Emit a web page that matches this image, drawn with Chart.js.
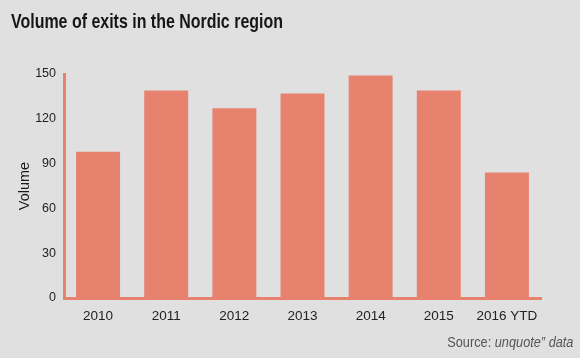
<!DOCTYPE html>
<html>
<head>
<meta charset="utf-8">
<script src="https://cdn.jsdelivr.net/npm/chart.js@4/dist/chart.umd.min.js"></script>
<style>
  html, body { margin: 0; padding: 0; background: #e0e0e0; }
  #wrap { position: relative; width: 580px; height: 358px; background: #e0e0e0; overflow: hidden; }
  #chart { position: absolute; left: 0; top: 0; }
  #title { position: absolute; left: 11px; top: 10px; font-family: "Liberation Sans", sans-serif; font-weight: bold; font-size: 21px; line-height: 21px; color: #161616; white-space: nowrap; transform: scaleX(0.76); transform-origin: left top; }
  #source { position: absolute; right: 7px; top: 333px; font-family: "Liberation Sans", sans-serif; font-size: 15px; line-height: 18px; color: #555; white-space: nowrap; transform: scaleX(0.85); transform-origin: right top; }
  #source i { font-style: italic; }
</style>
</head>
<body>
<div id="wrap">
  <canvas id="chart" width="580" height="358"></canvas>
  <div id="title">Volume of exits in the Nordic region</div>
  <div id="source">Source: <i>unquote” data</i></div>
</div>
<script>
const categories = ["2010", "2011", "2012", "2013", "2014", "2015", "2016 YTD"];
const volumes = [98, 139, 127, 137, 149, 139, 84];
const yTicks = [0, 30, 60, 90, 120, 150];

const barColor = "#e7826f";

new Chart(document.getElementById("chart"), {
  type: "bar",
  data: {
    labels: categories,
    datasets: [{
      label: "Volume",
      data: volumes,
      backgroundColor: barColor,
      borderWidth: 0,
      barPercentage: 0.645,
      categoryPercentage: 1.0
    }]
  },
  options: {
    responsive: false,
    animation: false,
    devicePixelRatio: 1,
    layout: { padding: { left: 10, top: 74, right: 39, bottom: 0 } },
    plugins: {
      legend: { display: false },
      tooltip: { enabled: false },
      title: { display: false }
    },
    scales: {
      x: {
        grid: { display: false, drawTicks: false },
        border: { display: true, color: barColor, width: 3 },
        ticks: {
          color: "#222",
          font: { family: "'Liberation Sans', sans-serif", size: 13.5 },
          padding: 10,
          maxRotation: 0,
          autoSkip: false
        },
        afterFit: (s) => { s.height = 60; }
      },
      y: {
        min: 0,
        max: 150,
        grid: { display: false, drawTicks: false },
        border: { display: true, color: barColor, width: 3 },
        afterBuildTicks: (s) => { s.ticks = yTicks.map(v => ({ value: v })); },
        ticks: {
          color: "#222",
          font: { family: "'Liberation Sans', sans-serif", size: 12.5 },
          padding: 8
        },
        title: {
          display: true,
          text: "Volume",
          color: "#1a1a1a",
          font: { family: "'Liberation Sans', sans-serif", size: 14.5 },
          padding: { top: 6, bottom: 0 }
        },
        afterFit: (s) => { s.width = 54; }
      }
    }
  }
});
</script>
</body>
</html>
